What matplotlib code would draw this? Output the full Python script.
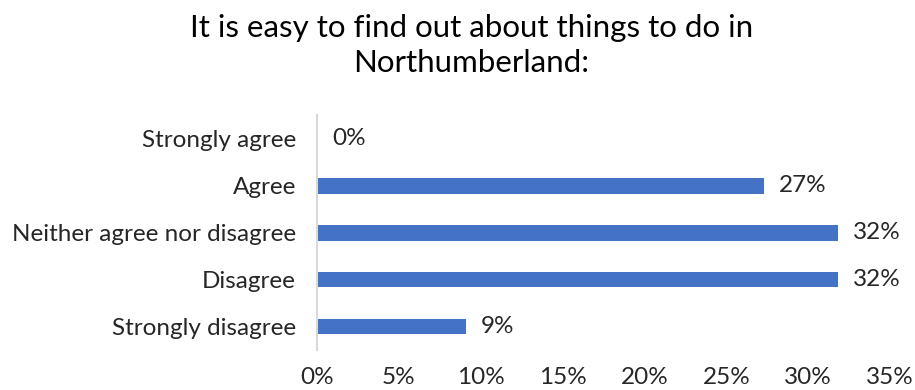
import matplotlib.pyplot as plt

plt.rcParams['font.family'] = ['Lato', 'DejaVu Sans']

categories = ["Strongly agree", "Agree", "Neither agree nor disagree", "Disagree", "Strongly disagree"]
values = [0, 27.3, 31.8, 31.8, 9.1]
value_labels = ["0%", "27%", "32%", "32%", "9%"]
x_ticks = [0, 5, 10, 15, 20, 25, 30, 35]

fig = plt.figure(figsize=(9.15, 3.9), dpi=100)
ax = fig.add_axes([0.3464, 0.1026, 0.6263, 0.6024])

ypos = list(range(len(categories)))
ax.barh(ypos, values, height=0.34, color="#4472C4")
for y, v, lab in zip(ypos, values, value_labels):
    ax.annotate(lab, (v, y), xytext=(11, 0), textcoords="offset points",
                va="center", ha="left", fontsize=17.5, color="#262626")

ax.set_ylim(len(categories) - 0.5, -0.5)
ax.set_yticks(ypos)
ax.set_yticklabels(categories, fontsize=17.5, color="#262626")
ax.set_xlim(0, 35)
ax.set_xticks(x_ticks)
ax.set_xticklabels([f"{t}%" for t in x_ticks], fontsize=17.5, color="#262626")
ax.tick_params(axis="x", length=0, pad=12)
ax.tick_params(axis="y", length=0, pad=15)
for s in ["top", "right", "bottom"]:
    ax.spines[s].set_visible(False)
ax.spines["left"].set_color("#D9D9D9")
ax.spines["left"].set_linewidth(1.5)

fig.text(0.515, 0.965, "It is easy to find out about things to do in\nNorthumberland:",
         ha="center", va="top", fontsize=22.5, color="#000000", linespacing=1.3)

fig.savefig("out.png", dpi=100)
